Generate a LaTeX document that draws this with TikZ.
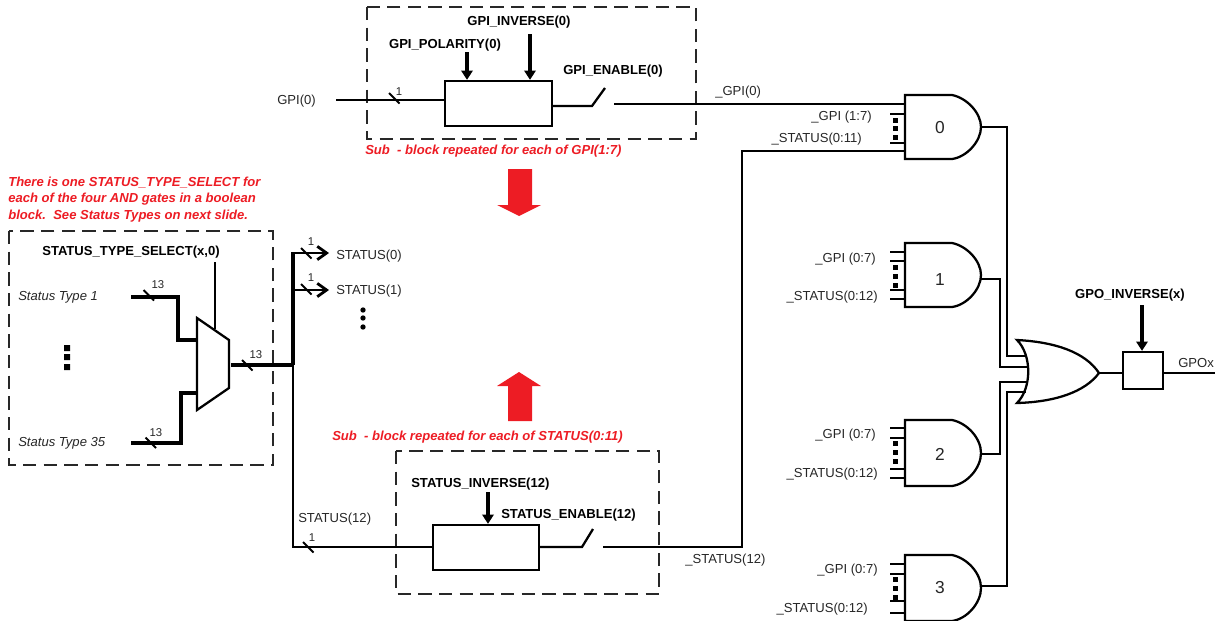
\documentclass[tikz,border=0pt]{standalone}
\usepackage{fontspec}
\setmainfont{Liberation Sans}
\usetikzlibrary{arrows.meta}
\definecolor{redtxt}{RGB}{237,28,36}
\definecolor{dashc}{RGB}{40,40,40}
\tikzset{
  x=0.75pt,y=-0.75pt,
  wire/.style={draw=black,line width=1.7pt},
  thin wire/.style={draw=black,line width=1.3pt},
  bus/.style={draw=black,line width=3.4pt,line join=miter},
  dashbox/.style={draw=dashc,line width=2pt,dash pattern=on 10pt off 5.5pt},
  block/.style={draw=black,line width=1.7pt,fill=white,inner sep=0pt,minimum width=0pt},
  lab/.style={font=\fontsize{9.8}{11}\selectfont,inner sep=0pt,text=black!85,yshift=-0.8pt},
  blab/.style={font=\fontsize{9.8}{11}\selectfont\bfseries,inner sep=0pt,text=black,yshift=-0.8pt},
  tiny lab/.style={font=\fontsize{8.5}{9}\selectfont,inner sep=0pt,text=black!85},
  ilab/.style={font=\fontsize{9.8}{11}\selectfont\itshape,inner sep=0pt,text=black!85,yshift=-1.1pt},
  rlab/.style={font=\fontsize{9.8}{12.4}\selectfont\bfseries\itshape,inner sep=0pt,text=redtxt,yshift=-0.6pt},
  glab/.style={font=\fontsize{13}{15}\selectfont,inner sep=0pt,text=black!85},
  ctl/.style={draw=black,line width=2.3pt,-{Triangle[length=7pt,width=8.5pt]}},
  open arr/.style={draw=black,line width=2.2pt,-{Straight Barb[length=7pt,width=10pt,line width=2.1pt]}},
}
% gate: height, x, top y
\newcommand{\andgate}[3][64]{%
  \pgfmathsetmacro{\gb}{#3+#1}%
  \pgfmathsetmacro{\gm}{#3+#1/2}%
  \draw[line width=1.7pt,fill=white] (#2,#3) -- (#2+47,#3) .. controls (#2+62,#3+3) and (#2+76,#3+18) .. (#2+76,\gm) .. controls (#2+76,\gb-18) and (#2+62,\gb-2) .. (#2+47,\gb) -- (#2,\gb) -- cycle;
}
\newcommand{\tickmark}[2]{\draw[line width=1.4pt] (#1-5,#2-5.5) -- (#1+5.5,#2+5);}
\begin{document}
\begin{tikzpicture}
\useasboundingbox (0,0) rectangle (1215,621);
% dashed boxes
\draw[dashbox] (367,7) rectangle (696,139);
\draw[dashbox] (9,231) rectangle (273,465);
\draw[dashbox] (396,451) rectangle (659,594);

% upper block
\node[block,minimum width=80.25pt,minimum height=33.75pt] (gpiblock) at (498.5,103.5) {};
\node[lab,anchor=east] (gpilab) at (316,100) {GPI(0)};
\coordinate (gpiin) at (336,100);
\draw[wire] (gpiin) -- (gpiin -| gpiblock.west);
\tickmark{394}{98.5}
\node[tiny lab] (gpione) at (399,92) {1};
\node[blab] (gpiinv) at (519,21) {GPI\_INVERSE(0)};
\node[blab] (gpipol) at (445,44) {GPI\_POLARITY(0)};
\node[blab] (gpien) at (613,70) {GPI\_ENABLE(0)};
\coordinate (polstart) at (467,52);
\coordinate (invstart) at (530,34);
\draw[ctl] (polstart) -- (polstart |- gpiblock.north);
\draw[ctl] (invstart) -- (invstart |- gpiblock.north);
\coordinate (swa) at (592,106);
\coordinate (swb) at (605,88);
\draw[wire] (gpiblock.east |- swa) -- (swa) -- (swb);
\coordinate (gpiout) at (614,104);
\coordinate (gatezeroa) at (905,104);
\draw[wire] (gpiout) -- (gatezeroa);
\node[lab,anchor=west] (ugpi) at (715,91) {\_GPI(0)};
\node[rlab,anchor=west] (subgpi) at (365,150) {Sub\ \ - block repeated for each of GPI(1:7)};

% red arrows
\fill[redtxt] (508,169) -- (532,169) -- (532,205) -- (541,205) -- (519,216) -- (497,205) -- (508,205) -- cycle;
\fill[redtxt] (508,421) -- (532,421) -- (532,386) -- (541,386) -- (519,372) -- (497,386) -- (508,386) -- cycle;

% note
\node[rlab,anchor=north west,align=left] (note) at (8,175.5) {There is one STATUS\_TYPE\_SELECT for\\each of the four AND gates in a boolean\\block.\ \ See Status Types on next slide.};

% mux
\draw[line width=1.7pt,fill=white,line join=miter] (197,318) coordinate (muxa) -- (229,340) coordinate (muxb) -- (229,388) coordinate (muxc) -- (197,410) coordinate (muxd) -- cycle;
\node[blab] (tsel) at (131,251) {STATUS\_TYPE\_SELECT(x,0)};
\coordinate (selstart) at (215,262);
\coordinate (selend) at (215,329);
\draw[thin wire] (selstart) -- (selend);
\node[ilab,anchor=west] (st1) at (18,296) {Status Type 1};
\node[ilab,anchor=west] (st35) at (18,442) {Status Type 35};
\coordinate (in1) at (131,297);
\coordinate (in2) at (131,443);
\draw[bus] (in1) -- (178,297) -- (178,340) -- (197,340);
\draw[bus] (in2) -- (181,443) -- (181,393) -- (197,393);
\tickmark{148.5}{295.5}
\tickmark{150.5}{443}
\node[tiny lab] (n13a) at (158,285) {13};
\node[tiny lab] (n13b) at (156,433) {13};
\fill[black] (64,345) rectangle (70,351) (64,354) rectangle (70,360) (64,364) rectangle (70,370);
% mux out bus
\coordinate (busj) at (293,365);
\draw[bus] (231,365) -- (busj);
\tickmark{247}{365.5}
\node[tiny lab] (n13c) at (256,355) {13};
\coordinate (s0end) at (329,253);
\coordinate (s1end) at (329,290);
\draw[line width=2.8pt] (busj) -- (293,252);
\draw[open arr] (292,253) -- (s0end);
\draw[open arr] (293,290) -- (s1end);
\tickmark{306}{253.5}
\tickmark{306}{289.5}
\node[tiny lab] (n1a) at (311,242) {1};
\node[tiny lab] (n1b) at (311,278) {1};
\node[lab,anchor=west] (s0) at (336,255) {STATUS(0)};
\node[lab,anchor=west] (s1) at (336,290) {STATUS(1)};
\fill[black] (363,310) circle (2pt) (363,318) circle (2pt) (363,327) circle (2pt);

% lower block
\node[block,minimum width=79.5pt,minimum height=33.75pt] (stblock) at (486,547.5) {};
\coordinate (stcorner) at (293,547);
\draw[thin wire] (busj) -- (stcorner) -- (stcorner -| stblock.west);
\tickmark{308}{547.5}
\node[tiny lab] (n1c) at (312,538) {1};
\node[lab,anchor=west] (st12) at (298,518) {STATUS(12)};
\node[blab,anchor=west] (stinv) at (411,483) {STATUS\_INVERSE(12)};
\node[blab,anchor=west] (sten) at (501,514) {STATUS\_ENABLE(12)};
\coordinate (stinvstart) at (488,492);
\draw[ctl] (stinvstart) -- (stinvstart |- stblock.north);
\coordinate (swc) at (582,547);
\coordinate (swd) at (593,529);
\draw[wire] (stblock.east |- swc) -- (swc) -- (swd);
\coordinate (stout) at (603,547);
\coordinate (stup) at (742,547);
\coordinate (gatezerob) at (905,151);
\draw[wire] (stout) -- (stup) -- (742,151) -- (gatezerob);
\node[lab,anchor=west] (ust12) at (685,559) {\_STATUS(12)};
\node[rlab,anchor=west] (subst) at (332,436) {Sub\ \ - block repeated for each of STATUS(0:11)};

% gate input stubs
\foreach \ya/\yb/\yc/\yd in {114/114/143/143,252/261/290/299,428/438/469/478,564/574/601/613}{
  \draw[wire] (890,\ya) -- (905,\ya) (890,\yb) -- (905,\yb) (890,\yc) -- (905,\yc) (890,\yd) -- (905,\yd);
}
% gates
\andgate{905}{95}
\andgate{905}{243}
\andgate[66]{905}{420}
\andgate[66]{905}{555}
\node[glab] (g0) at (940,128) {0};
\node[glab] (g1) at (940,280) {1};
\node[glab] (g2) at (940,454) {2};
\node[glab] (g3) at (940,588) {3};
\foreach \y in {120,128,137, 267,276,285, 443,452,461, 579,588,597}{
  \fill[black] (893,\y-2.5) rectangle (898,\y+2.5);
}
\node[lab,anchor=east] (a0) at (872,116) {\_GPI (1:7)};
\node[lab,anchor=east] (b0) at (862,138) {\_STATUS(0:11)};
\node[lab,anchor=east] (a1) at (876,258) {\_GPI (0:7)};
\node[lab,anchor=east] (b1) at (878,296) {\_STATUS(0:12)};
\node[lab,anchor=east] (a2) at (876,434) {\_GPI (0:7)};
\node[lab,anchor=east] (b2) at (878,473) {\_STATUS(0:12)};
\node[lab,anchor=east] (a3) at (878,569) {\_GPI (0:7)};
\node[lab,anchor=east] (b3) at (868,608) {\_STATUS(0:12)};

% OR gate
\coordinate (ortip) at (1099,373);
\draw[line width=1.7pt,fill=white] (1017,340) .. controls (1055,342) and (1085,352) .. (ortip) .. controls (1085,392) and (1055,402) .. (1017,403) .. controls (1032,388) and (1032,355) .. (1017,340) -- cycle;
\draw[wire] (981,127) -- (1007,127) -- (1007,356) -- (1026,356);
\draw[wire] (981,279) -- (1000,279) -- (1000,367) -- (1028,367);
\draw[wire] (981,454) -- (1000,454) -- (1000,382) -- (1028,382);
\draw[wire] (981,586) -- (1007,586) -- (1007,392) -- (1026,392);
% output block
\node[block,minimum width=30pt,minimum height=27.75pt] (gpoblock) at (1143,370.5) {};
\draw[wire] (ortip) -- (gpoblock.west |- ortip);
\coordinate (gpoend) at (1215,373);
\draw[wire] (gpoblock.east |- gpoend) -- (gpoend);
\node[lab,anchor=west] (gpox) at (1178,362) {GPOx};
\node[blab] (gpoinv) at (1130,294) {GPO\_INVERSE(x)};
\coordinate (gpoarr) at (1142,305);
\draw[ctl] (gpoarr) -- (gpoarr |- gpoblock.north);
\end{tikzpicture}
\end{document}
